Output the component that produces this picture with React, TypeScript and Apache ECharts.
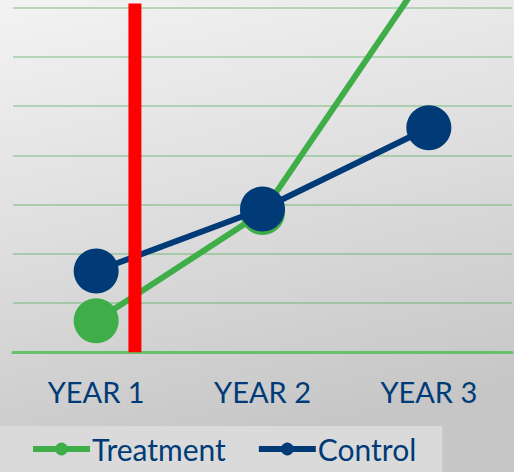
import React, { useEffect, useRef } from "react";
import * as echarts from "echarts";

const categories = ["YEAR 1", "YEAR 2", "YEAR 3"];
const treatment = [0.64, 2.84, 7.8];
const control = [1.65, 2.91, 4.56];
const markerX = 0.233;
const markerTop = 7.08;

export default function App() {
  const ref = useRef<HTMLDivElement>(null);
  useEffect(() => {
    document.body.style.margin = "0";
    const chart = echarts.init(ref.current!, null, { renderer: "svg" });
    const navy = "#003b78";
    const green = "#3fae49";
    chart.setOption({
      animation: false,
      backgroundColor: new echarts.graphic.LinearGradient(0, 0, 0.25, 1, [
        { offset: 0, color: "#f3f3f3" },
        { offset: 0.5, color: "#dedede" },
        { offset: 1, color: "#c6c6c6" },
      ]),
      grid: { left: 13, right: 2, top: 7.5, bottom: 119.7, containLabel: false },
      legend: {
        data: ["Treatment", "Control"],
        left: 0,
        top: 426,
        padding: [8, 26, 10, 30],
        backgroundColor: "#dadada",
        itemWidth: 57,
        itemHeight: 16,
        itemGap: 30,
        lineStyle: { width: 6 },
        textStyle: { color: navy, fontSize: 30, fontFamily: "Lato", padding: [0, 0, 0, -3] },
      },
      xAxis: [
        {
          type: "category",
          data: categories,
          boundaryGap: true,
          axisLine: { show: true, lineStyle: { color: "#6abf69", width: 3 } },
          axisTick: { show: false },
          axisLabel: { color: navy, fontSize: 29, fontFamily: "Lato", margin: 25 },
          splitLine: { show: false },
        },
        {
          type: "value",
          min: -0.5,
          max: 2.5,
          show: false,
        },
      ],
      yAxis: {
        type: "value",
        min: 0,
        max: 7,
        interval: 1,
        axisLine: { show: false },
        axisTick: { show: false },
        axisLabel: { show: false },
        splitLine: { lineStyle: { color: "rgba(60,170,70,0.33)", width: 2 } },
      },
      series: [
        {
          name: "Treatment",
          type: "line",
          data: treatment,
          clip: false,
          symbol: "circle",
          symbolSize: 45,
          lineStyle: { color: green, width: 6 },
          itemStyle: { color: green },
          z: 2,
        },
        {
          name: "Control",
          type: "line",
          data: control,
          clip: false,
          symbol: "circle",
          symbolSize: 45,
          lineStyle: { color: navy, width: 6 },
          itemStyle: { color: navy },
          z: 3,
        },
        {
          name: "marker",
          type: "line",
          xAxisIndex: 1,
          data: [
            [markerX, 0],
            [markerX, markerTop],
          ],
          clip: false,
          symbol: "none",
          lineStyle: { color: "#ff0000", width: 13, cap: "butt" },
          z: 4,
        },
      ],
    });
    return () => chart.dispose();
  }, []);
  return <div ref={ref} style={{ width: 514, height: 472 }} />;
}
